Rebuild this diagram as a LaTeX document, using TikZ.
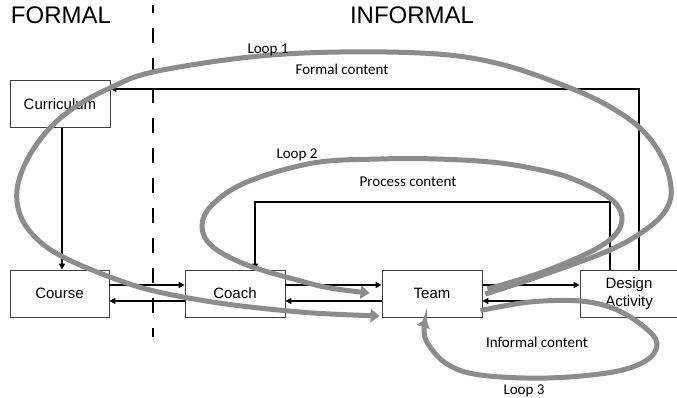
\documentclass[tikz,border=0pt]{standalone}
\usepackage{fontspec}
\setmainfont{Liberation Sans}
\newfontfamily\labelfont{Carlito}
\usepackage{tikz}
\usetikzlibrary{arrows.meta,positioning,calc}
\definecolor{loopgray}{RGB}{140,140,140}

\begin{document}
\begin{tikzpicture}[x=1pt,y=-1pt,
    box/.style={draw=black!75,line width=0.8pt,minimum width=100pt,minimum height=47pt,inner sep=0pt,align=center,font=\fontsize{15}{17.5}\selectfont},
    flow/.style={line width=1.5pt,-{Triangle[length=6pt,width=6pt]}},
    loopline/.style={draw=loopgray,line width=5pt,-{Triangle[length=9pt,width=13pt]}},
    lbl/.style={anchor=base,font=\labelfont\fontsize{15}{18}\selectfont}]
    \useasboundingbox (0,0) rectangle (677,398);
    % the two sides
    \node [anchor=base,font=\fontsize{24}{28}\selectfont] (formal) at (61,24) {FORMAL};
    \node [anchor=base,font=\fontsize{24}{28}\selectfont] (informal) at (412,24) {INFORMAL};
    \draw [line width=2.5pt,dash pattern=on 15pt off 15pt,dash phase=7pt] (153,5) -- (153,337);
    % boxes
    \node [box] (curriculum) at (60,104) {Curriculum};
    \node [box,minimum width=99pt] (course) at (59.5,293.5) {Course};
    \node [box] (coach) at (235,293.5) {Coach};
    \node [box] (team) at (432,293.5) {Team};
    \node [box,minimum width=98pt] (design) at (629,293.5) {Design\\Activity};
    % arrows between boxes
    \draw [flow] ([xshift=2pt]curriculum.south) -- ([xshift=2.5pt]course.north);
    \draw [flow] ([yshift=8.5pt]course.east) -- ([yshift=8.5pt]coach.west);
    \draw [flow,line width=2.5pt] ([yshift=-7.5pt]coach.west) -- ([yshift=-7.5pt]course.east);
    \draw [flow] ([yshift=8.5pt]coach.east) -- ([yshift=8.5pt]team.west);
    \draw [flow,line width=2pt] ([yshift=-7.5pt]team.west) -- ([yshift=-7.5pt]coach.east);
    \draw [flow] ([yshift=8.5pt]team.east) -- ([yshift=8.5pt]design.west);
    \draw [flow,line width=2.5pt] ([yshift=-7.5pt]design.west) -- ([yshift=-7.5pt]team.east);
    \draw [flow,line width=2pt] ($(design.north west)+(59,0)$) |- ([yshift=15pt]curriculum.east);
    \coordinate (procbend) at (255,202);
    \draw [flow,line width=2pt] ($(design.north west)+(30,0)$) |- (procbend) -- ([xshift=20pt]coach.north);
    % loops
    \coordinate (loop1start) at ([xshift=3pt,yshift=-0.5pt]team.east);
    \coordinate (loop1end) at ([xshift=-2pt,yshift=-22.5pt]team.west);
    \coordinate (loop2start) at ([xshift=5pt,yshift=4.5pt]team.east);
    \coordinate (loop2end) at ([xshift=-12pt,yshift=0.5pt]team.west);
    \coordinate (loop3start) at ([xshift=-2pt,yshift=-17pt]team.east);
    \coordinate (loop3end) at ([xshift=-6pt,yshift=-1pt]team.south);
    \draw [loopline] plot [smooth,tension=0.6] coordinates {(loop1start) (540,276) (610,250) (648,228) (667,208) (671,187) (662,157) (640,128) (605,104) (560,84) (500,64) (437,54) (340,52) (250,57) (153,72) (110,88) (75,107) (48,130) (27,160) (17,190) (21,217) (38,240) (65,258) (110,277) (150,290) (200,300) (250,307) (313,313) (loop1end)};
    \draw [loopline] plot [smooth,tension=0.6] coordinates {(loop2start) (540,273) (590,252) (614,236) (622,220) (617,205) (602,193) (580,182) (554,173) (500,163) (437,159) (380,159) (313,163) (247,182) (212,205) (202,227) (213,247) (247,265) (297,280) (330,288) (loop2end)};
    \draw [loopline] plot [smooth,tension=0.6] coordinates {(loop3start) (530,302) (580,301) (615,309) (643,326) (657,343) (647,360) (613,372) (547,378) (480,375) (447,364) (428,344) (424,330) (loop3end)};
    % labels
    \node [lbl] (loop1) at (268,54) {Loop 1};
    \node [lbl] (formalcontent) at (342,75) {Formal content};
    \node [lbl] (loop2) at (297,159) {Loop 2};
    \node [lbl] (processcontent) at (408,186) {Process content};
    \node [lbl] (informalcontent) at (537,347) {Informal content};
    \node [lbl] (loop3) at (524,394) {Loop 3};
\end{tikzpicture}
\end{document}
